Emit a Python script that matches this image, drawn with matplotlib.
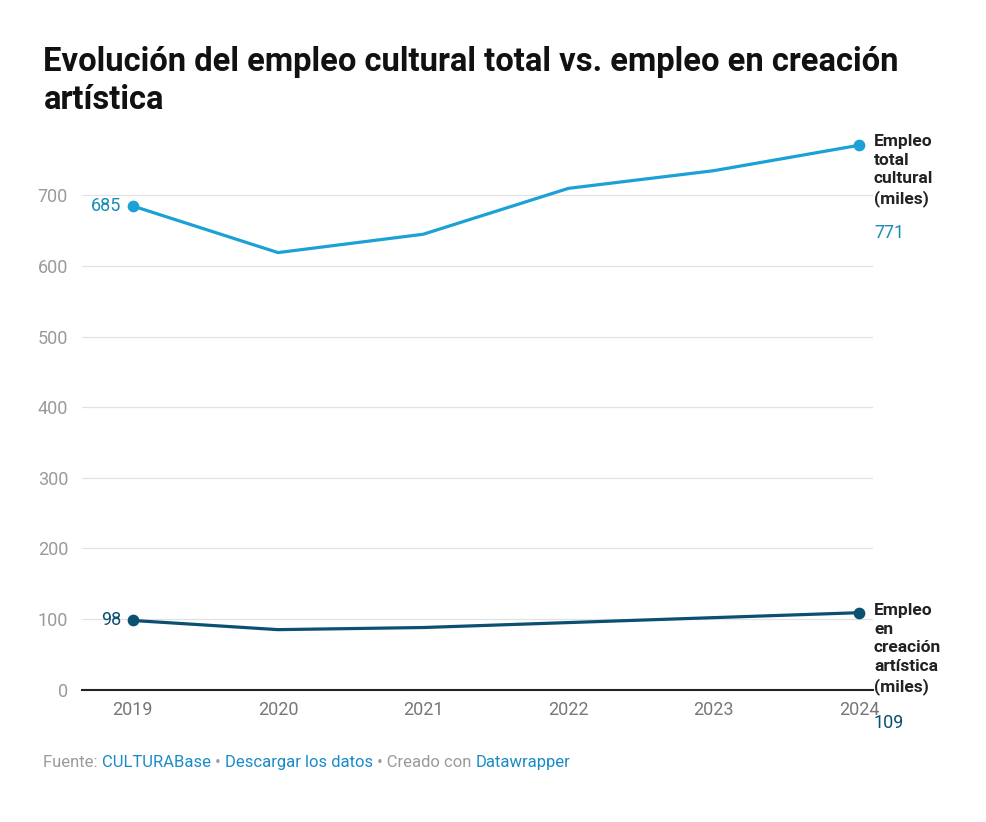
import matplotlib.pyplot as plt

plt.rcParams['font.family'] = ['Roboto', 'DejaVu Sans']

years = [2019, 2020, 2021, 2022, 2023, 2024]
total_cultural = [685, 619, 645, 710, 735, 771]
creacion_artistica = [98, 85, 88, 95, 102, 109]
y_ticks = [0, 100, 200, 300, 400, 500, 600, 700]

c_total = "#1ba1d5"
c_creacion = "#0b4f71"
grey = "#9a9a9a"

fig = plt.figure(figsize=(9.87, 8.22), dpi=100)
ax = fig.add_axes([0.083, 0.161, 0.802, 0.67])

ax.plot(years, total_cultural, color=c_total, lw=2.3, zorder=3)
ax.plot(years, creacion_artistica, color=c_creacion, lw=2.3, zorder=3)
for ys, c in [(total_cultural, c_total), (creacion_artistica, c_creacion)]:
    ax.scatter([years[0], years[-1]], [ys[0], ys[-1]], s=55, color=c, zorder=4)

ax.set_xlim(2018.65, 2024.1)
ax.set_ylim(0, 780)
ax.set_yticks(y_ticks)
ax.set_xticks(years)
ax.tick_params(axis='y', length=0, labelsize=13, colors=grey, pad=10)
ax.tick_params(axis='x', length=0, labelsize=13, colors="#777777", pad=8)
ax.grid(axis='y', color="#e2e2e2", lw=0.9)
ax.set_axisbelow(True)
for s in ['top', 'right', 'left']:
    ax.spines[s].set_visible(False)
ax.spines['bottom'].set_color('#222222')
ax.spines['bottom'].set_linewidth(1.5)

# start labels
ax.text(years[0] - 0.08, total_cultural[0], str(total_cultural[0]), color="#1a8bb8",
        fontsize=13, ha='right', va='center')
ax.text(years[0] - 0.08, creacion_artistica[0], str(creacion_artistica[0]), color=c_creacion,
        fontsize=13, ha='right', va='center')

# end labels
lx = 874 / 987
fig.text(lx, 1 - 134 / 822, "Empleo\ntotal\ncultural\n(miles)",
         fontsize=12.5, fontweight='bold', color="#222222", ha='left', va='top', linespacing=1.3)
fig.text(lx, 1 - 233 / 822, str(total_cultural[-1]), color="#1a8bb8", fontsize=13, va='center')
fig.text(lx, 1 - 603 / 822, "Empleo\nen\ncreación\nartística\n(miles)",
         fontsize=12.5, fontweight='bold', color="#222222", ha='left', va='top', linespacing=1.3)
fig.text(lx, 1 - 723 / 822, str(creacion_artistica[-1]), color=c_creacion, fontsize=13, va='center')

fig.text(0.044, 1 - 81 / 822, "Evolución del empleo cultural total vs. empleo en creación\nartística",
         fontsize=23.6, fontweight='bold', color="#111111", va='center', linespacing=1.25)

# footer
x0 = 0.044
yf = 1 - 762 / 822
parts = [("Fuente: ", grey), ("CULTURABase", "#1a8bc9"), (" • ", grey),
         ("Descargar los datos", "#1a8bc9"), (" • Creado con ", grey), ("Datawrapper", "#1a8bc9")]
fig.canvas.draw()
r = fig.canvas.get_renderer()
for txt, col in parts:
    t = fig.text(x0, yf, txt, fontsize=12, color=col, va='center')
    bb = t.get_window_extent(renderer=r)
    x0 += bb.width / fig.bbox.width

fig.savefig("out.png", dpi=100, facecolor="white")
